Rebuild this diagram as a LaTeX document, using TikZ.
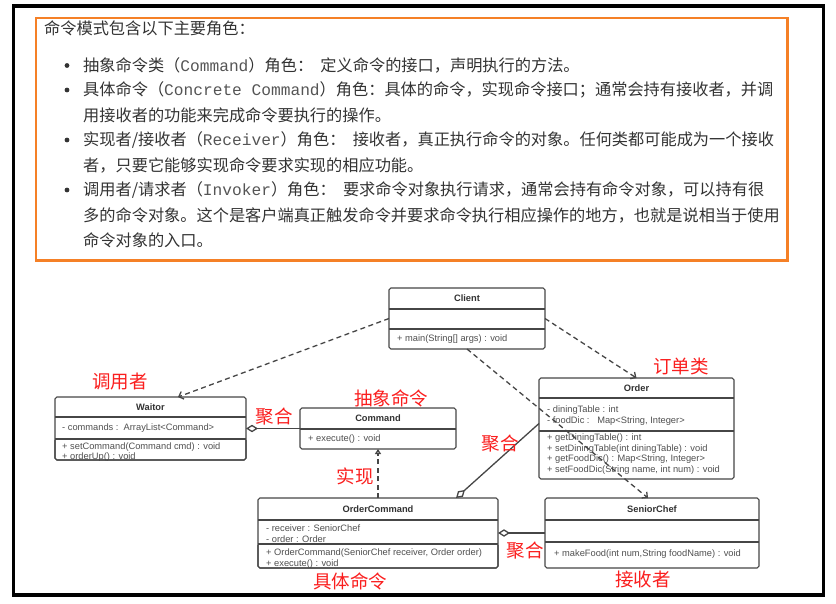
\documentclass[tikz,border=0pt]{standalone}
\usepackage{xcolor}
\usepackage{fontspec}
\usepackage{tikz}
\usetikzlibrary{arrows.meta}

\setmainfont{Liberation Sans}
\newfontfamily\cjk{Noto Sans CJK SC}
\newfontfamily\codefont{Liberation Mono}

\definecolor{boxorange}{RGB}{245,128,38}
\definecolor{introgray}{RGB}{51,51,51}
\definecolor{codegray}{RGB}{85,85,85}
\definecolor{linegray}{RGB}{70,70,70}
\definecolor{titlegray}{RGB}{50,50,50}
\definecolor{itemgray}{RGB}{80,80,80}
\definecolor{labelred}{RGB}{250,30,30}

\newcommand{\cmdcode}[1]{{\codefont\color{codegray}#1}}

\tikzset{
    intro/.style={font=\cjk\fontsize{16.2}{18}\selectfont, text=introgray, anchor=west, inner sep=0pt},
    umlbox/.style={draw=linegray, fill=white, line width=1.1pt, rounded corners=1.8pt, anchor=north west, inner sep=0pt, outer sep=0pt},
    rowline/.style={draw=linegray, line width=1.1pt},
    umltitle/.style={font=\fontsize{9.3}{10}\selectfont\bfseries, text=titlegray, inner sep=0pt},
    umlitem/.style={font=\fontsize{9.3}{10}\selectfont, text=itemgray, anchor=west, inner sep=0pt},
    redlabel/.style={font=\cjk\fontsize{18.5}{20}\selectfont, text=labelred, inner sep=0pt},
    dep/.style={draw=linegray, line width=1.3pt, dash pattern=on 5pt off 3.5pt, -{Straight Barb[length=4pt, width=8pt]}},
    real/.style={draw=linegray, line width=1.3pt, dash pattern=on 5pt off 3.5pt, -{Triangle[open, length=5pt, width=6pt]}},
    aggr/.style={draw=linegray, line width=1.3pt, -{Diamond[open, length=12pt, width=7.5pt]}}
}

\begin{document}
\begin{tikzpicture}[x=1pt, y=-1pt]
    \useasboundingbox (0,0) rectangle (836,604);

    % Roles of the pattern (top)
    \draw[boxorange, line width=2.5pt] (36,18) rectangle (787.5,260.5);
    \node[intro] (head) at (44,28) {命令模式包含以下主要角色：};
    \foreach \y in {65.5,90,140,190}
        \fill[introgray] (67,\y) circle (2.4pt);
    \node[intro] (roleA) at (83,65.5) {抽象命令类（\cmdcode{Command}）角色：\ \ 定义命令的接口，声明执行的方法。};
    \node[intro] (roleB) at (83,90) {具体命令（\cmdcode{Concrete Command}）角色：具体的命令，实现命令接口；通常会持有接收者，并调};
    \node[intro] (roleB2) at (83,115) {用接收者的功能来完成命令要执行的操作。};
    \node[intro] (roleC) at (83,140) {实现者/接收者（\cmdcode{Receiver}）角色：\ \ 接收者，真正执行命令的对象。任何类都可能成为一个接收};
    \node[intro] (roleC2) at (83,165) {者，只要它能够实现命令要求实现的相应功能。};
    \node[intro] (roleD) at (83,190) {调用者/请求者（\cmdcode{Invoker}）角色：\ \ 要求命令对象执行请求，通常会持有命令对象，可以持有很};
    \node[intro] (roleD2) at (83,215) {多的命令对象。这个是客户端真正触发命令并要求命令执行相应操作的地方，也就是说相当于使用};
    \node[intro] (roleD3) at (83,240) {命令对象的入口。};

    % Client (top)
    \node[umlbox, minimum width=156pt, minimum height=61pt] (client) at (389,288) {};
    \draw[rowline] (389,309) -- (545,309);
    \draw[rowline] (389,329) -- (545,329);
    \node[umltitle] (clientT) at (467,298.5) {Client};
    \node[umlitem] (clientM) at (397,339) {+ main(String[] args) : void};

    % Waitor (left)
    \node[umlbox, minimum width=191pt, minimum height=63pt] (waitor) at (55,397) {};
    \draw[rowline] (55,417) -- (246,417);
    \draw[rowline] (55,439) -- (246,439);
    \node[umltitle] (waitorT) at (150.5,407) {Waitor};
    \node[umlitem] (waitorA) at (62,428.5) {- commands :\ \ ArrayList<Command>};
    \node[umlitem] (waitorM1) at (62,447) {+ setCommand(Command cmd) : void};
    \node[umlitem] (waitorM2) at (62,457.5) {+ orderUp() : void};
    \draw[linegray, line width=1.1pt, rounded corners=1.8pt] (55,440) -- (55,460) -- (246,460) -- (246,440);

    % Command (middle)
    \node[umlbox, minimum width=156pt, minimum height=41pt] (command) at (300,408) {};
    \draw[rowline] (300,429) -- (456,429);
    \node[umltitle] (commandT) at (378,418.5) {Command};
    \node[umlitem] (commandM) at (308,439) {+ execute() : void};

    % Order (right)
    \node[umlbox, minimum width=195pt, minimum height=101pt] (order) at (539,378) {};
    \draw[rowline] (539,398) -- (734,398);
    \draw[rowline] (539,431) -- (734,431);
    \node[umltitle] (orderT) at (636.5,388) {Order};
    \node[umlitem] (orderA1) at (547,410.5) {- diningTable : int};
    \node[umlitem] (orderA2) at (547,421.5) {- foodDic :\ \ \ Map<String, Integer>};
    \node[umlitem] (orderM1) at (547,438.5) {+ getDiningTable() : int};
    \node[umlitem] (orderM2) at (547,449) {+ setDiningTable(int diningTable) : void};
    \node[umlitem] (orderM3) at (547,459.5) {+ getFoodDic() : Map<String, Integer>};
    \node[umlitem] (orderM4) at (547,470) {+ setFoodDic(String name, int num) : void};

    % OrderCommand (bottom)
    \node[umlbox, minimum width=240pt, minimum height=70pt] (ordercommand) at (258,498) {};
    \draw[rowline] (258,520) -- (498,520);
    \draw[rowline] (258,544) -- (498,544);
    \node[umltitle] (ordercommandT) at (378,509.5) {OrderCommand};
    \node[umlitem] (ordercommandA1) at (266,528) {- receiver : SeniorChef};
    \node[umlitem] (ordercommandA2) at (266,539) {- order : Order};
    \node[umlitem] (ordercommandM1) at (266,553.5) {+ OrderCommand(SeniorChef receiver, Order order)};
    \node[umlitem] (ordercommandM2) at (266,564) {+ execute() : void};
    \draw[linegray, line width=1.1pt, rounded corners=1.8pt] (258,545) -- (258,568) -- (498,568) -- (498,545);

    % SeniorChef (bottom right)
    \node[umlbox, minimum width=214pt, minimum height=70pt] (seniorchef) at (545,498) {};
    \draw[rowline] (545,520) -- (759,520);
    \draw[rowline] (545,542) -- (759,542);
    \node[umltitle] (seniorchefT) at (652,509.5) {SeniorChef};
    \node[umlitem] (seniorchefM) at (554,554) {+ makeFood(int num,String foodName) : void};

    % Relations
    \draw[dep] (client.west) -- ([xshift=27.5pt]waitor.north);
    \draw[dep] (client.east) -- (order.north);
    \draw[dep] (client.south) -- ([xshift=-4pt]seniorchef.north);
    \draw[aggr] (command.west) -- (waitor.east);
    \draw[real] (ordercommand.north) -- (command.south);
    \draw[aggr] ([yshift=5pt]order.west) -- ([xshift=78pt]ordercommand.north);
    \draw[aggr] (seniorchef.west) -- (ordercommand.east);

    % Red notes
    \node[redlabel] (invokerL) at (120,382) {调用者};
    \node[redlabel] (abstractL) at (391,398) {抽象命令};
    \node[redlabel] (aggrA) at (274,416.5) {聚合};
    \node[redlabel] (aggrB) at (500,443.5) {聚合};
    \node[redlabel] (realL) at (355,476.5) {实现};
    \node[redlabel] (orderL) at (681,366) {订单类};
    \node[redlabel] (aggrC) at (525,551) {聚合};
    \node[redlabel] (concreteL) at (350,581.5) {具体命令};
    \node[redlabel] (receiverL) at (643,579) {接收者};

    % Outer frame
    \draw[black, line width=3.5pt] (13.5,6) rectangle (823.5,595);
\end{tikzpicture}
\end{document}
